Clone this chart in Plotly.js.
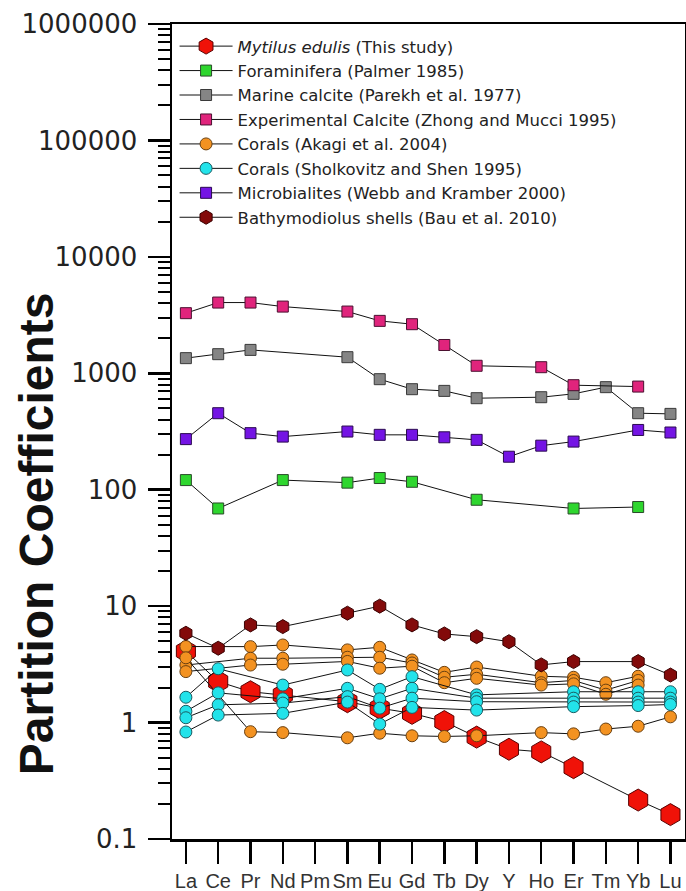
<!DOCTYPE html>
<html>
<head>
<meta charset="utf-8">
<script src="https://cdn.plot.ly/plotly-3.0.1.min.js"></script>
<style>html,body{margin:0;padding:0;background:#fff;}#chart{width:686px;height:891px;}</style>
</head>
<body>
<div id="chart"></div>
<script>
const elements = ['La','Ce','Pr','Nd','Pm','Sm','Eu','Gd','Tb','Dy','Y','Ho','Er','Tm','Yb','Lu'];
const yTickVals = [0.1, 1, 10, 100, 1000, 10000, 100000, 1000000];
const yTickText = ['0.1', '1', '10', '100', '1000', '10000', '100000', '1000000'];

const mytilus = [4.1, 2.25, 1.84, 1.73, null, 1.51, 1.33, 1.2, 1.02, 0.75, 0.59, 0.56, 0.41, null, 0.216, 0.162];
const foraminifera = [121, 69, null, 121, null, 115, 126, 117, null, 82, null, null, 69, null, 71, null];
const marineCalcite = [1349, 1459, 1588, null, null, 1375, 890, 730, 706, 611, null, 623, 666, 760, 454, 448];
const expCalcite = [3283, 4050, 4050, 3740, null, 3390, 2820, 2640, 1750, 1160, null, 1128, 790, null, 769, null];
const akagi1 = [4.5, null, 4.49, 4.64, null, 4.21, 4.43, 3.45, 2.7, 3.0, null, 2.5, 2.45, 2.2, 2.5, null];
const akagi2 = [3.12, null, 3.57, 3.57, null, 3.64, 3.64, 3.25, 2.45, 2.6, null, 2.2, 2.3, 1.9, 2.3, null];
const akagi3 = [2.74, null, 3.12, 3.17, null, 3.35, 2.93, 3.05, 2.2, 2.4, null, 2.1, 2.15, 1.75, 2.1, null];
const akagi4 = [3.6, null, 0.835, 0.82, null, 0.74, 0.81, 0.77, 0.76, 0.77, null, 0.82, 0.80, 0.88, 0.93, 1.12];
const sholk1 = [1.65, 2.9, null, 2.1, null, 2.83, 1.93, 2.48, null, 1.73, null, null, 1.84, null, 1.84, 1.84];
const sholk2 = [1.25, 1.8, null, 1.6, null, 1.97, 1.6, 1.97, null, 1.62, null, null, 1.62, null, 1.62, 1.62];
const sholk3 = [1.1, 1.42, null, 1.47, null, 1.67, 1.33, 1.62, null, 1.51, null, null, 1.5, null, 1.5, 1.5];
const sholk4 = [0.83, 1.16, null, 1.2, null, 1.5, 0.97, 1.35, null, 1.28, null, null, 1.37, null, 1.4, 1.43];
const microbialites = [272, 454, 306, 286, null, 316, 296, 296, 282, 268, 192, 239, 259, null, 326, 310];
const bathymodiolus = [5.85, 4.35, 6.9, 6.67, null, 8.7, 10.0, 6.9, 5.77, 5.47, 4.95, 3.13, 3.34, null, 3.34, 2.56];

function tr(y, name, group, show, symbol, color, size, lineColor) {
  return {
    x: elements, y: y, type: 'scatter', mode: 'lines+markers', connectgaps: true,
    name: name, legendgroup: group, showlegend: show,
    line: {color: '#111', width: 1},
    marker: {symbol: symbol, color: color, size: size, line: {color: lineColor, width: 1}}
  };
}

const traces = [
  tr(mytilus, '<i>Mytilus edulis</i> (This study)', 'myt', true, 'hexagon', '#f01208', 22, '#5a0000'),
  tr(foraminifera, 'Foraminifera (Palmer 1985)', 'for', true, 'square', '#2ed62e', 11, '#2a4a2a'),
  tr(marineCalcite, 'Marine calcite (Parekh et al. 1977)', 'mar', true, 'square', '#858585', 11, '#3a3a3a'),
  tr(expCalcite, 'Experimental Calcite (Zhong and Mucci 1995)', 'exp', true, 'square', '#e0247c', 11, '#4a1030'),
  tr(akagi1, 'Corals (Akagi et al. 2004)', 'aka', true, 'circle', '#f39221', 12, '#6a4010'),
  tr(akagi2, 'Corals (Akagi et al. 2004)', 'aka', false, 'circle', '#f39221', 12, '#6a4010'),
  tr(akagi3, 'Corals (Akagi et al. 2004)', 'aka', false, 'circle', '#f39221', 12, '#6a4010'),
  tr(akagi4, 'Corals (Akagi et al. 2004)', 'aka', false, 'circle', '#f39221', 12, '#6a4010'),
  tr(sholk1, 'Corals (Sholkovitz and Shen 1995)', 'sho', true, 'circle', '#22e3ea', 12, '#1a5a60'),
  tr(sholk2, 'Corals (Sholkovitz and Shen 1995)', 'sho', false, 'circle', '#22e3ea', 12, '#1a5a60'),
  tr(sholk3, 'Corals (Sholkovitz and Shen 1995)', 'sho', false, 'circle', '#22e3ea', 12, '#1a5a60'),
  tr(sholk4, 'Corals (Sholkovitz and Shen 1995)', 'sho', false, 'circle', '#22e3ea', 12, '#1a5a60'),
  tr(microbialites, 'Microbialites (Webb and Kramber 2000)', 'mic', true, 'square', '#7414e4', 11, '#2a0a50'),
  tr(bathymodiolus, 'Bathymodiolus shells (Bau et al. 2010)', 'bat', true, 'hexagon', '#830a0a', 14, '#3a0000')
];

const layout = {
  width: 686, height: 891,
  margin: {l: 172, r: 1, t: 24, b: 52, pad: 0},
  paper_bgcolor: '#fff', plot_bgcolor: '#fff',
  font: {family: 'Liberation Sans, Arial, sans-serif', color: '#222'},
  showlegend: true,
  legend: {
    x: 0.005, y: 0.994, xanchor: 'left', yanchor: 'top',
    bgcolor: 'rgba(0,0,0,0)', borderwidth: 0,
    font: {size: 16.5, color: '#222', family: 'DejaVu Sans, sans-serif'},
    itemwidth: 53, tracegroupgap: 0, traceorder: 'normal'
  },
  xaxis: {
    type: 'category', categoryorder: 'array', categoryarray: elements,
    range: [-0.43, 15.45],
    showline: true, mirror: true, linecolor: '#000', linewidth: 2.5,
    ticks: 'outside', ticklen: 22, tickwidth: 2.5, tickcolor: '#000',
    tickfont: {size: 20, color: '#333'},
    showgrid: false, zeroline: false
  },
  yaxis: {
    type: 'log', range: [-1, 6],
    tickmode: 'array', tickvals: yTickVals, ticktext: yTickText,
    showline: true, mirror: true, linecolor: '#000', linewidth: 2.5,
    ticks: 'outside', ticklen: 22, tickwidth: 2.5, tickcolor: '#000',
    ticklabelstandoff: 5,
    minor: {ticks: 'outside', ticklen: 12, tickwidth: 2, tickcolor: '#000', dtick: 'D1', showgrid: false},
    tickfont: {size: 26, color: '#222', family: 'DejaVu Sans, sans-serif'},
    showgrid: false, zeroline: false
  },
  annotations: [{
    text: '<b>Partition Coefficients</b>', textangle: -90,
    xref: 'paper', yref: 'paper', x: -0.265, y: 0.374,
    xanchor: 'center', yanchor: 'middle', showarrow: false,
    font: {size: 48, color: '#111', family: 'Liberation Sans, Arial, sans-serif'}
  }]
};

Plotly.newPlot('chart', traces, layout, {displayModeBar: false, staticPlot: true});
</script>
</body>
</html>
